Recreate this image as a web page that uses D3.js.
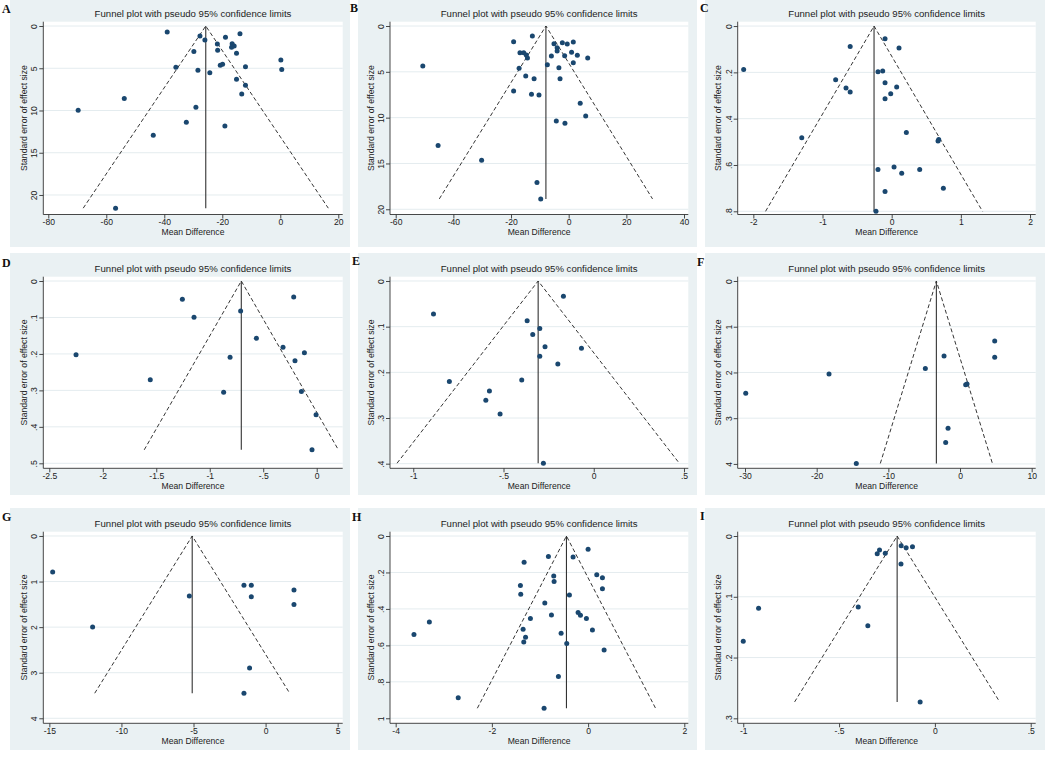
<!DOCTYPE html>
<html>
<head>
<meta charset="utf-8">
<script src="https://cdn.jsdelivr.net/npm/d3@7"></script>
<style>
  body { margin: 0; background: #fff; }
  svg { display: block; font-family: "Liberation Sans", Arial, sans-serif; }
</style>
</head>
<body>
<svg id="chart" width="1045" height="758"></svg>
<script>
// mean difference / standard error
let aMD = [-39.0, -27.7, -26.0, -18.9, -13.9, -21.7, -16.6, -15.9, -16.8, -21.6, -29.8, -15.1, -36.0, -28.4, -24.3, -20.7, -19.9, -12.0, 0.2, 0.5, -15.1, -12.0, -13.3, -53.8, -69.7, -29.1, -32.4, -19.1, -43.8, -56.8];
let aSE = [0.71, 1.18, 1.65, 1.34, 0.91, 2.13, 2.09, 2.36, 2.52, 2.88, 3.03, 3.23, 4.89, 5.24, 5.52, 4.65, 4.53, 4.81, 4.02, 5.16, 6.31, 7.02, 8.04, 8.59, 9.97, 9.62, 11.39, 11.83, 12.93, 21.56];

let bMD = [-12.6, -19.1, -5.1, -2.2, -0.5, 1.6, -4.0, -4.0, -16.9, -15.6, -14.7, -6.0, -1.4, 1.0, 3.0, 6.6, -14.3, -7.4, 1.6, -50.6, -17.2, -3.4, -14.9, -12.0, -3.0, -19.1, -12.9, -10.3, 4.0, 5.9, -4.3, -1.3, -45.3, -30.2, -11.0, -9.7];
let bSE = [1.09, 1.71, 1.93, 1.82, 1.96, 1.75, 2.36, 2.73, 2.91, 2.91, 3.16, 3.27, 3.24, 2.87, 3.2, 3.49, 3.49, 4.22, 4.0, 4.36, 4.62, 4.55, 5.45, 5.75, 5.75, 7.09, 7.45, 7.53, 8.44, 9.82, 10.36, 10.62, 13.05, 14.65, 17.09, 18.87];

let cMD = [-0.096, -0.60, 0.106, -2.14, -0.198, -0.13, -0.096, -0.81, -0.66, -0.60, 0.072, -0.014, -0.096, 0.212, -1.30, 0.67, 0.68, -0.198, 0.034, 0.145, 0.405, 0.747, -0.096, -0.227];
let cSE = [0.055, 0.088, 0.095, 0.188, 0.197, 0.194, 0.245, 0.232, 0.267, 0.285, 0.263, 0.292, 0.314, 0.46, 0.482, 0.496, 0.490, 0.619, 0.609, 0.636, 0.62, 0.70, 0.715, 0.80];

let dMD = [-1.256, -1.147, -0.711, -0.215, -0.564, -0.315, -0.115, -0.203, -2.25, -0.81, -1.556, -0.87, -0.143, -0.006, -0.044];
let dSE = [0.050, 0.0996, 0.082, 0.044, 0.157, 0.182, 0.197, 0.219, 0.202, 0.209, 0.271, 0.305, 0.303, 0.367, 0.463];

let eMD = [-0.168, -0.888, -0.369, -0.299, -0.338, -0.270, -0.068, -0.299, -0.199, -0.80, -0.399, -0.578, -0.598, -0.519, -0.279];
let eSE = [0.0335, 0.072, 0.087, 0.104, 0.117, 0.144, 0.147, 0.165, 0.182, 0.220, 0.217, 0.241, 0.261, 0.291, 0.399];

let fMD = [4.84, 4.84, -2.23, -4.84, -18.28, -29.9, 0.79, 0.98, -1.67, -2.0, -14.47];
let fSE = [1.311, 1.668, 1.639, 1.916, 2.033, 2.455, 2.27, 2.255, 3.22, 3.53, 3.99];

let gMD = [-14.77, -1.50, -0.99, 1.97, -5.29, -0.99, 1.97, -12.0, -1.11, -1.50];
let gSE = [0.79, 1.082, 1.082, 1.185, 1.316, 1.331, 1.506, 1.996, 2.896, 3.45];

let hMD = [0.0, -0.825, -0.312, -1.33, -0.714, -0.707, 0.18, 0.298, 0.298, -1.407, -1.40, -0.388, -0.90, -0.762, -0.208, -0.159, -0.035, -1.199, -3.30, -3.62, -1.351, -0.561, 0.09, -1.30, -1.337, -0.444, 0.333, -0.617, -2.70, -0.915];
let hSE = [0.073, 0.113, 0.115, 0.144, 0.219, 0.249, 0.212, 0.229, 0.289, 0.272, 0.320, 0.324, 0.367, 0.433, 0.420, 0.435, 0.452, 0.453, 0.472, 0.541, 0.512, 0.534, 0.516, 0.556, 0.581, 0.590, 0.625, 0.771, 0.887, 0.945];

let iMD = [-0.176, -0.117, -0.150, -0.289, -0.301, -0.259, -0.177, -0.920, -0.40, -0.35, -1.0, -0.077];
let iSE = [0.0159, 0.0176, 0.0192, 0.023, 0.029, 0.0285, 0.046, 0.119, 0.117, 0.1476, 0.173, 0.273];

// pooled estimate (funnel apex) per panel
let pooled = [-25.7, -7.9, -0.255, -0.705, -0.308, -3.3, -5.09, -0.45, -0.197];

// tick values per panel
let xTicksA = [-80, -60, -40, -20, 0, 20],  yTicksA = [0, 5, 10, 15, 20];
let xTicksB = [-60, -40, -20, 0, 20, 40],   yTicksB = [0, 5, 10, 15, 20];
let xTicksC = [-2, -1, 0, 1, 2],            yTicksC = [0, .2, .4, .6, .8];
let xTicksD = [-2.5, -2, -1.5, -1, -.5, 0], yTicksD = [0, .1, .2, .3, .4, .5];
let xTicksE = [-1, -.5, 0, .5],             yTicksE = [0, .1, .2, .3, .4];
let xTicksF = [-30, -20, -10, 0, 10],       yTicksF = [0, 1, 2, 3, 4];
let xTicksG = [-15, -10, -5, 0, 5],         yTicksG = [0, 1, 2, 3, 4];
let xTicksH = [-4, -2, 0, 2],               yTicksH = [0, .2, .4, .6, .8, 1];
let xTicksI = [-1, -.5, 0, .5],             yTicksI = [0, .1, .2, .3];

let letters = ["A", "B", "C", "D", "E", "F", "G", "H", "I"];
let titleText = "Funnel plot with pseudo 95% confidence limits";
let xTitle = "Mean Difference";
let yTitle = "Standard error of effect size";

// layout of the 3x3 grid
let bgCols = [[10, 350], [358, 697], [705, 1045]];
let bgRows = [[0, 247], [253, 495], [508, 750]];
let plotCols = [[43.3, 342.7], [390, 688.3], [737.7, 1035.7]];
let plotRows = [[21.7, 214.5], [276.7, 468.3], [531.7, 723.3]];
let letterPos = [[2, 13], [350, 12], [700, 12], [2, 267], [352, 265], [697, 266], [2, 521], [352, 521], [700, 520]];

let panels = [
  { md: aMD, se: aSE, xd: [-81.72, 21.52], yd: [-0.51, 22.31], xt: xTicksA, yt: yTicksA },
  { md: bMD, se: bSE, xd: [-61.98, 41.49], yd: [-0.47, 20.57], xt: xTicksB, yt: yTicksB },
  { md: cMD, se: cSE, xd: [-2.226, 2.082], yd: [-0.0188, 0.8138], xt: xTicksC, yt: yTicksC },
  { md: dMD, se: dSE, xd: [-2.556, 0.243], yd: [-0.0118, 0.5137], xt: xTicksD, yt: yTicksD },
  { md: eMD, se: eSE, xd: [-1.129, 0.524], yd: [-0.0094, 0.4101], xt: xTicksE, yt: yTicksE },
  { md: fMD, se: fSE, xd: [-31.02, 10.56], yd: [-0.094, 4.096], xt: xTicksF, yt: yTicksF },
  { md: gMD, se: gSE, xd: [-15.42, 5.35], yd: [-0.094, 4.11], xt: xTicksG, yt: yTicksG },
  { md: hMD, se: hSE, xd: [-4.118, 2.083], yd: [-0.0236, 1.0276], xt: xTicksH, yt: yTicksH },
  { md: iMD, se: iSE, xd: [-1.029, 0.526], yd: [-0.0071, 0.3082], xt: xTicksI, yt: yTicksI }
];

// stata style labels: .2 instead of 0.2
function stataFmt(v) {
  return d3.format("~g")(v).replace("−", "-").replace(/^(-?)0\./, "$1.");
}

let svg = d3.select("#chart");

panels.forEach(function(p, i) {
  let col = i % 3, row = Math.floor(i / 3);
  let bx = bgCols[col], by = bgRows[row];
  let px = plotCols[col], py = plotRows[row];

  svg.append("rect")
    .attr("x", bx[0]).attr("y", by[0])
    .attr("width", bx[1] - bx[0]).attr("height", by[1] - by[0])
    .attr("fill", "#eaf1f3");

  let x = d3.scaleLinear().domain(p.xd).range(px);
  let y = d3.scaleLinear().domain(p.yd).range(py);

  let g = svg.append("g");

  g.append("rect")
    .attr("x", px[0]).attr("y", py[0])
    .attr("width", px[1] - px[0]).attr("height", py[1] - py[0])
    .attr("fill", "#fff");

  // gridlines
  g.selectAll(".grid").data(p.yt).enter().append("line")
    .attr("x1", px[0]).attr("x2", px[1])
    .attr("y1", d => y(d)).attr("y2", d => y(d))
    .attr("stroke", "#e4ecef").attr("stroke-width", 1);

  // axes
  let xAxis = g.append("g")
    .attr("transform", "translate(0," + py[1] + ")")
    .call(d3.axisBottom(x).tickValues(p.xt).tickFormat(stataFmt).tickSizeOuter(0).tickSize(4));
  let yAxis = g.append("g")
    .attr("transform", "translate(" + px[0] + ",0)")
    .call(d3.axisLeft(y).tickValues(p.yt).tickFormat(stataFmt).tickSizeOuter(0).tickSize(4));

  [xAxis, yAxis].forEach(function(a) {
    a.select(".domain").attr("stroke", "#333").attr("stroke-width", 0.9);
    a.selectAll(".tick line").attr("stroke", "#333").attr("stroke-width", 0.9);
    a.selectAll("text").attr("fill", "#222").style("font-size", "8.6px").style("font-family", "Liberation Sans, Arial, sans-serif");
  });
  xAxis.selectAll(".tick text").attr("y", 10.3).attr("dy", null);
  // vertical y tick labels, reading upwards
  yAxis.selectAll(".tick text")
    .attr("x", null).attr("dy", null)
    .attr("text-anchor", "middle")
    .attr("transform", "translate(-6.2,0) rotate(-90)");
  // clip the axis lines to the plot region
  xAxis.select(".domain").attr("d", "M" + px[0] + ",0H" + px[1]);
  yAxis.select(".domain").attr("d", "M0," + py[0] + "V" + py[1]);

  // funnel: pooled estimate and pseudo 95% limits at the largest SE
  let m = pooled[i];
  let maxSE = d3.max(p.se);
  g.append("line")
    .attr("x1", x(m)).attr("y1", y(0))
    .attr("x2", x(m)).attr("y2", y(maxSE))
    .attr("stroke", "#333").attr("stroke-width", 1.1);
  let funnel = d3.line().x(d => x(d[0])).y(d => y(d[1]));
  g.append("path")
    .attr("d", funnel([[m - 1.96 * maxSE, maxSE], [m, 0], [m + 1.96 * maxSE, maxSE]]))
    .attr("fill", "none").attr("stroke", "#2a2a2a").attr("stroke-width", 0.95)
    .attr("stroke-dasharray", "4,2.5");

  // study points
  g.selectAll(".pt").data(p.md.map((d, k) => [d, p.se[k]])).enter().append("circle")
    .attr("cx", d => x(d[0])).attr("cy", d => y(d[1]))
    .attr("r", 2.5).attr("fill", "#1a476f");

  let cx = (px[0] + px[1]) / 2;
  g.append("text")
    .attr("x", cx).attr("y", py[0] - 4.5)
    .attr("text-anchor", "middle").style("font-size", "9.6px").attr("fill", "#222")
    .text(titleText);
  g.append("text")
    .attr("x", cx).attr("y", py[1] + 20.5)
    .attr("text-anchor", "middle").style("font-size", "8.6px").attr("fill", "#222")
    .text(xTitle);
  g.append("text")
    .attr("transform", "translate(" + (px[0] - 16.5) + "," + ((py[0] + py[1]) / 2) + ") rotate(-90)")
    .attr("text-anchor", "middle").style("font-size", "8.6px").attr("fill", "#222")
    .text(yTitle);

  svg.append("text")
    .attr("x", letterPos[i][0]).attr("y", letterPos[i][1])
    .style("font-family", "Liberation Serif, Times New Roman, serif")
    .style("font-weight", "bold").style("font-size", "12px").attr("fill", "#111")
    .text(letters[i]);
});
</script>
</body>
</html>
